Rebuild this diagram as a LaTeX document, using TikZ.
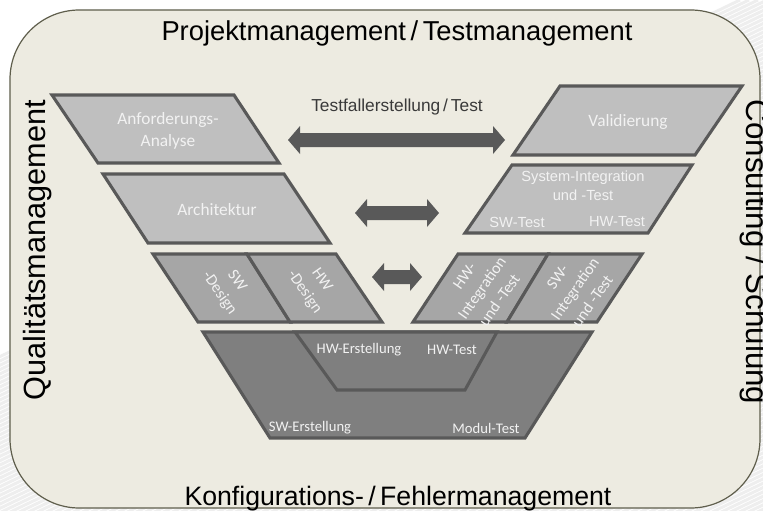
\documentclass[tikz,border=0pt]{standalone}
\usepackage{fontspec}
\setmainfont{Liberation Sans}
\newfontfamily\calib{Carlito}
\definecolor{bgcream}{HTML}{EDEBE1}
\definecolor{rimcol}{HTML}{5F5E4C}
\definecolor{lightbox}{HTML}{BFBFBF}
\definecolor{midbox}{HTML}{A6A6A6}
\definecolor{darkbox}{HTML}{7F7F7F}
\definecolor{edgecol}{HTML}{595959}
\definecolor{arrowcol}{HTML}{595959}
\definecolor{boxtext}{HTML}{F2F2F2}
\definecolor{labeltext}{HTML}{3A3A3A}
\definecolor{stripecol}{HTML}{EEEEEE}
\tikzset{
  phase/.style={draw=edgecol, line width=2.3pt, line join=miter},
  lightphase/.style={phase, fill=lightbox},
  midphase/.style={phase, fill=midbox},
  darkphase/.style={phase, fill=darkbox},
  blockarrow/.style={fill=arrowcol},
  boxlbl/.style={text=boxtext, font=\calib\fontsize{13}{17}\selectfont, align=center, inner sep=0pt},
  rotlbl/.style={text=boxtext, font=\calib\fontsize{12}{16}\selectfont, align=center, inner sep=0pt},
  smalllbl/.style={text=boxtext, font=\calib\fontsize{11}{13}\selectfont, inner sep=0pt},
  silbl/.style={text=boxtext, font=\fontsize{11}{14.3}\selectfont, align=center, inner sep=0pt},
  outerlbl/.style={text=black, inner sep=0pt, anchor=base},
}
\newcommand{\dblarrow}[3]{%
  \fill[blockarrow] (#1,#3) -- ({#1+12},{#3-14}) -- ({#1+12},{#3-7}) -- ({#2-12},{#3-7})
    -- ({#2-12},{#3-14}) -- (#2,#3) -- ({#2-12},{#3+14}) -- ({#2-12},{#3+7})
    -- ({#1+12},{#3+7}) -- ({#1+12},{#3+14}) -- cycle;}
\begin{document}
\begin{tikzpicture}[x=0.75pt,y=-0.75pt]
\useasboundingbox (0,0) rectangle (763,510);
% background with faint stripes
\fill[white] (0,0) rectangle (763,510);
\begin{scope}
\clip (0,0) rectangle (763,510);
\foreach \i in {-40,...,110} {
  \draw[stripecol, line width=2.2pt] ({\i*9},530) -- ({\i*9+1100},0);
}
\end{scope}
% outer frame
\draw[fill=bgcream, draw=rimcol, line width=0.9pt, rounded corners=52pt] (10,10) rectangle (760,508);

% outer labels
\node[outerlbl, font=\fontsize{20.5}{24}\selectfont] (pm) at (397,41) {Projektmanagement\,/\,Testmanagement};
\node[outerlbl, font=\fontsize{20}{24}\selectfont] (km) at (398,505) {Konfigurations-\,/\,Fehlermanagement};
\node[outerlbl, font=\fontsize{23}{26}\selectfont, rotate=90] (qm) at (45,250) {Qualitätsmanagement};
\node[outerlbl, font=\fontsize{23.5}{26}\selectfont, rotate=-90] (cs) at (746,252) {Consulting / Schulung};

% left branch
\draw[lightphase] (52,95) -- (234,95) -- (279,163) -- (98,163) -- cycle;
\node[boxlbl] (anf) at (168,131) {Anforderungs-\\Analyse};
\draw[lightphase] (103,174) -- (284,174) -- (330,243) -- (148,243) -- cycle;
\node[boxlbl] (arch) at (217,210) {Architektur};
\draw[midphase] (153,254) -- (247,254) -- (290,322) -- (198,322) -- cycle;
\draw[midphase] (247,254) -- (336,254) -- (382,322) -- (290,322) -- cycle;
\node[rotlbl, rotate=-55] (swd) at (228,287) {SW\\-Design};
\node[rotlbl, rotate=-55] (hwd) at (313,286) {HW\\-Design};

% right branch
\draw[lightphase] (560,86) -- (742,86) -- (695,155) -- (513,155) -- cycle;
\node[boxlbl] (val) at (628,122) {Validierung};
\draw[lightphase] (512,165) -- (692,165) -- (648,233) -- (465,233) -- cycle;
\node[silbl] (sit) at (583,185.5) {System-Integration\\und -Test};
\node[silbl] (swt) at (517,222) {SW-Test};
\node[silbl] (hwt) at (617,222) {HW-Test};
\draw[midphase] (458,254) -- (548,254) -- (507,322) -- (413,322) -- cycle;
\draw[midphase] (548,254) -- (642,254) -- (597,322) -- (507,322) -- cycle;
\node[rotlbl, rotate=55] (hwi) at (482,288) {HW-\\Integration\\und -Test};
\node[rotlbl, rotate=55] (swi) at (575,289) {SW-\\Integration\\und -Test};

% bottom
\draw[darkphase] (203,332) -- (592,332) -- (525,438) -- (270,438) -- cycle;
\draw[darkphase] (295,332) -- (497,332) -- (465,390) -- (337,390) -- cycle;
\node[smalllbl] (hwe) at (359,350) {HW-Erstellung};
\node[smalllbl] (hwtb) at (452,350) {HW-Test};
\node[smalllbl] (swe) at (310,428) {SW-Erstellung};
\node[smalllbl] (mt) at (486,428) {Modul-Test};

% arrows
\node[text=labeltext, font=\fontsize{13}{15}\selectfont, inner sep=0pt] (tf) at (397,107) {Testfallerstellung\,/\,Test};
\dblarrow{288}{505}{140}
\dblarrow{355}{439}{213}
\dblarrow{372}{422}{277}
\end{tikzpicture}
\end{document}
